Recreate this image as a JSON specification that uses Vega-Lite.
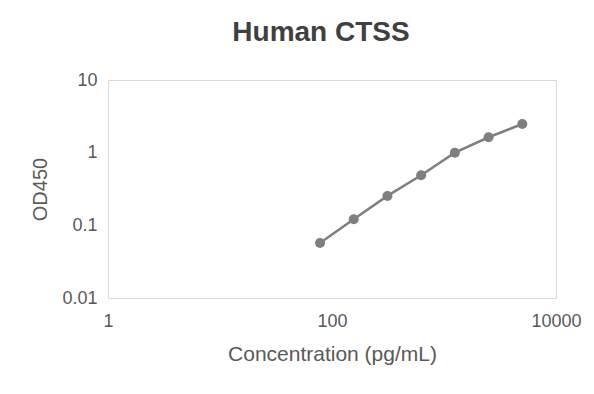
{
  "$schema": "https://vega.github.io/schema/vega-lite/v6.json",
  "width": 448,
  "height": 218,
  "autosize": {"type": "none"},
  "padding": {"left": 108, "top": 80, "right": 38, "bottom": 96},
  "background": "white",
  "config": {
    "font": "Liberation Sans",
    "view": {"stroke": "#d9d9d9", "strokeWidth": 1}
  },
  "title": {
    "text": "Human CTSS",
    "fontSize": 28,
    "fontWeight": "bold",
    "color": "#404040",
    "anchor": "middle",
    "dx": -11,
    "offset": 38,
    "dy": 36,
    "baseline": "alphabetic"
  },
  "data": {
    "values": [
      {"conc": 78.125, "od": 0.057},
      {"conc": 156.25, "od": 0.121},
      {"conc": 312.5, "od": 0.254},
      {"conc": 625, "od": 0.489},
      {"conc": 1250, "od": 1.0},
      {"conc": 2500, "od": 1.63},
      {"conc": 5000, "od": 2.48}
    ]
  },
  "encoding": {
    "x": {
      "field": "conc",
      "type": "quantitative",
      "scale": {"type": "log", "domain": [1, 10000], "nice": false},
      "axis": {
        "title": "Concentration (pg/mL)",
        "values": [1, 100, 10000],
        "labelExpr": "'' + datum.value",
        "labelFlush": false,
        "labelOverlap": false,
        "grid": false,
        "domain": false,
        "ticks": false,
        "tickSize": 0,
        "labelPadding": 14,
        "labelFontSize": 18,
        "labelColor": "#595959",
        "labelFontWeight": "normal",
        "titleFontSize": 21,
        "titleFontWeight": "normal",
        "titleColor": "#595959",
        "titleBaseline": "middle",
        "titleX": 224,
        "titleY": 56
      }
    },
    "y": {
      "field": "od",
      "type": "quantitative",
      "scale": {"type": "log", "domain": [0.01, 10], "nice": false},
      "axis": {
        "title": "OD450",
        "values": [0.01, 0.1, 1, 10],
        "labelExpr": "'' + datum.value",
        "labelFlush": false,
        "labelOverlap": false,
        "grid": false,
        "domain": false,
        "ticks": false,
        "tickSize": 0,
        "labelPadding": 11,
        "labelFontSize": 18,
        "labelColor": "#595959",
        "labelFontWeight": "normal",
        "titleFontSize": 20,
        "titleFontWeight": "normal",
        "titleColor": "#595959",
        "titleBaseline": "middle",
        "titleAngle": -90,
        "titleX": -68,
        "titleY": 109
      }
    }
  },
  "layer": [
    {"mark": {"type": "line", "color": "#7f7f7f", "strokeWidth": 2.5}},
    {"mark": {"type": "point", "filled": true, "opacity": 1, "color": "#7f7f7f", "size": 100}}
  ]
}
